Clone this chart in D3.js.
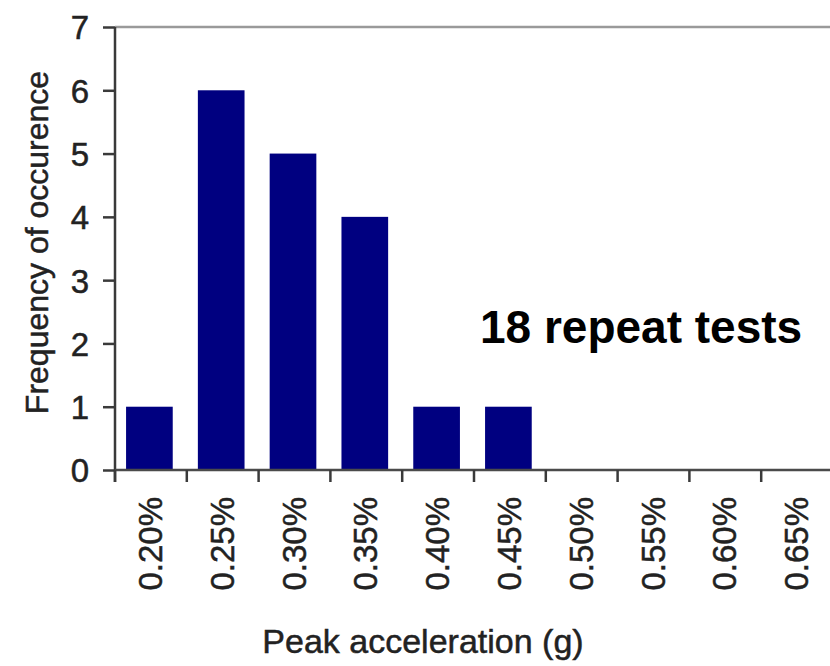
<!DOCTYPE html>
<html>
<head>
<meta charset="utf-8">
<script src="https://cdn.jsdelivr.net/npm/d3@7"></script>
<style>
  html, body { margin: 0; padding: 0; background: #fff; overflow: hidden; }
  svg { display: block; }
</style>
</head>
<body>
<div id="chart"></div>
<script>
// values
var categories = ["0.20%", "0.25%", "0.30%", "0.35%", "0.40%", "0.45%", "0.50%", "0.55%", "0.60%", "0.65%"];
var frequency = [1, 6, 5, 4, 1, 1, 0, 0, 0, 0];
var yTicks = [0, 1, 2, 3, 4, 5, 6, 7];

(function histogram() {

  var width = 830,
    height = 666,
    plotLeft = 115,
    plotRight = 833,   // plot runs past the cropped right edge
    plotTop = 27,
    plotBottom = 470;

  var svg = d3.select("#chart")
    .append("svg")
    .attr("width", width)
    .attr("height", height);

  var x = d3.scaleBand()
    .domain(categories)
    .range([plotLeft, plotRight])
    .paddingInner(0.35)
    .paddingOuter(0.175);

  var y = d3.scaleLinear()
    .domain([0, 7])
    .range([plotBottom, plotTop]);

  var font = "'Liberation Sans', Arial, sans-serif";

  // top border of the plot area
  svg.append("line")
    .attr("x1", plotLeft).attr("x2", plotRight)
    .attr("y1", y(7)).attr("y2", y(7))
    .attr("stroke", "#9a9a9a")
    .attr("stroke-width", 2.5);

  // bars
  svg.selectAll(".bar")
    .data(frequency)
    .enter()
    .append("rect")
    .attr("class", "bar")
    .attr("x", function(d, i) { return x(categories[i]) - 1.5; })
    .attr("y", function(d) { return y(d); })
    .attr("width", x.bandwidth())
    .attr("height", function(d) { return y(0) - y(d); })
    .attr("fill", "#000080");

  // y axis
  var yAxis = svg.append("g")
    .attr("transform", "translate(" + plotLeft + ",0)")
    .call(d3.axisLeft(y).tickValues(yTicks).tickSize(12).tickPadding(14).tickFormat(d3.format("d")));

  yAxis.select(".domain").remove();
  yAxis.append("line")
    .attr("x1", 0).attr("x2", 0)
    .attr("y1", plotTop).attr("y2", plotBottom + 12)
    .attr("stroke", "#3a3a3a")
    .attr("stroke-width", 2.5);
  yAxis.selectAll(".tick line").attr("stroke", "#3a3a3a").attr("stroke-width", 2.5);
  yAxis.selectAll(".tick text")
    .style("font-family", font)
    .style("font-size", "33px")
    .attr("fill", "#222")
    .attr("stroke", "#222")
    .attr("stroke-width", 0.5)
    .attr("dy", "0.36em");

  // x axis: labels at band centres, ticks between bands
  var step = x.step();
  var xAxis = svg.append("g")
    .attr("transform", "translate(0," + plotBottom + ")");

  xAxis.append("line")
    .attr("x1", plotLeft).attr("x2", plotRight)
    .attr("y1", 0).attr("y2", 0)
    .attr("stroke", "#4a4a4a")
    .attr("stroke-width", 2.5);

  xAxis.selectAll(".xtick")
    .data(categories)
    .enter()
    .append("line")
    .attr("class", "xtick")
    .attr("x1", function(d) { return x(d) - step * 0.175; })
    .attr("x2", function(d) { return x(d) - step * 0.175; })
    .attr("y1", 0).attr("y2", 12)
    .attr("stroke", "#3a3a3a")
    .attr("stroke-width", 2.5);

  xAxis.selectAll(".xlabel")
    .data(categories)
    .enter()
    .append("text")
    .attr("class", "xlabel")
    .attr("transform", function(d) {
      return "translate(" + (x(d) + x.bandwidth() / 2 + 11) + ",27) rotate(-90)";
    })
    .attr("text-anchor", "end")
    .style("font-family", font)
    .style("font-size", "33px")
    .attr("fill", "#222")
    .attr("stroke", "#222")
    .attr("stroke-width", 0.5)
    .text(function(d) { return d; });

  // axis titles
  svg.append("text")
    .attr("x", 423)
    .attr("y", 653)
    .attr("text-anchor", "middle")
    .style("font-family", font)
    .style("font-size", "34px")
    .attr("fill", "#222")
    .attr("stroke", "#222")
    .attr("stroke-width", 0.5)
    .text("Peak acceleration (g)");

  svg.append("text")
    .attr("transform", "translate(48," + ((plotTop + plotBottom) / 2 - 6) + ") rotate(-90)")
    .attr("text-anchor", "middle")
    .style("font-family", font)
    .style("font-size", "32px")
    .attr("fill", "#222")
    .attr("stroke", "#222")
    .attr("stroke-width", 0.5)
    .text("Frequency of occurence");

  // annotation
  svg.append("text")
    .attr("x", 480)
    .attr("y", 343)
    .style("font-family", font)
    .style("font-size", "46px")
    .style("font-weight", "bold")
    .attr("fill", "#000")
    .text("18 repeat tests");

  // sub-figure label, cut off by the bottom edge
  svg.append("text")
    .attr("x", 76)
    .attr("y", 701)
    .style("font-family", font)
    .style("font-size", "48px")
    .style("font-weight", "bold")
    .attr("fill", "#000")
    .text("(b)");
})();
</script>
</body>
</html>
